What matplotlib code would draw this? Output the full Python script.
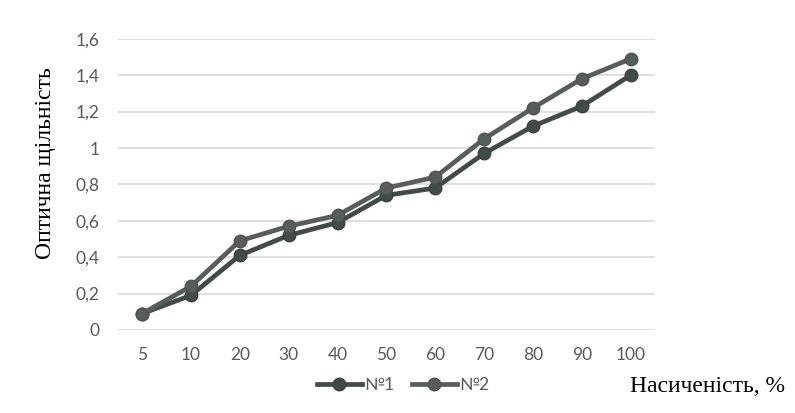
import matplotlib.pyplot as plt

# ---------- data ----------
categories = ["5", "10", "20", "30", "40", "50", "60", "70", "80", "90", "100"]
series_1 = [0.09, 0.19, 0.41, 0.52, 0.59, 0.74, 0.78, 0.97, 1.12, 1.23, 1.40]
series_2 = [0.09, 0.24, 0.49, 0.57, 0.63, 0.78, 0.84, 1.05, 1.22, 1.38, 1.49]
y_ticks = [0, 0.2, 0.4, 0.6, 0.8, 1.0, 1.2, 1.4, 1.6]
y_tick_labels = ["0", "0,2", "0,4", "0,6", "0,8", "1", "1,2", "1,4", "1,6"]

TICK_FONT = "Lato"
TITLE_FONT = "Liberation Serif"

# ---------- plot ----------
fig = plt.figure(figsize=(7.95, 4.13), dpi=100)
ax = fig.add_axes([0.148, 0.201, 0.676, 0.705])

x = range(len(categories))
ax.plot(x, series_1, color="#434b4a", lw=3.4, marker="o", ms=9,
        markeredgecolor="#3a4140", label="№1", zorder=3)
ax.plot(x, series_2, color="#575d5c", lw=3.4, marker="o", ms=9,
        markeredgecolor="#4d5352", label="№2", zorder=4)

ax.set_xlim(-0.5, len(categories) - 0.5)
ax.set_ylim(0, 1.6)
ax.set_xticks(list(x))
ax.set_xticklabels(categories)
ax.set_yticks(y_ticks)
ax.set_yticklabels(y_tick_labels)
ax.tick_params(length=0, labelsize=12.5, labelcolor="#595959")
ax.tick_params(axis="y", pad=13)
ax.tick_params(axis="x", pad=12)
for lbl in ax.get_xticklabels() + ax.get_yticklabels():
    lbl.set_family(TICK_FONT)

ax.grid(axis="y", color="#d9d9d9", lw=1.2)
ax.set_axisbelow(True)
for s in ax.spines.values():
    s.set_visible(False)

# axis titles
fig.text(0.057, 0.605, "Оптична щільність", family=TITLE_FONT, fontsize=17,
         rotation=90, ha="center", va="center")
fig.text(0.987, 0.063, "Насиченість, %", family=TITLE_FONT,
         fontsize=17, ha="right", va="center")

leg = fig.legend(loc="center", bbox_to_anchor=(0.507, 0.068), ncol=2,
                 frameon=False, handlelength=2.6, columnspacing=1.0,
                 handletextpad=0.15,
                 prop={"family": TICK_FONT, "size": 12.5})
for t in leg.get_texts():
    t.set_color("#595959")

fig.savefig("out.png", dpi=100)
